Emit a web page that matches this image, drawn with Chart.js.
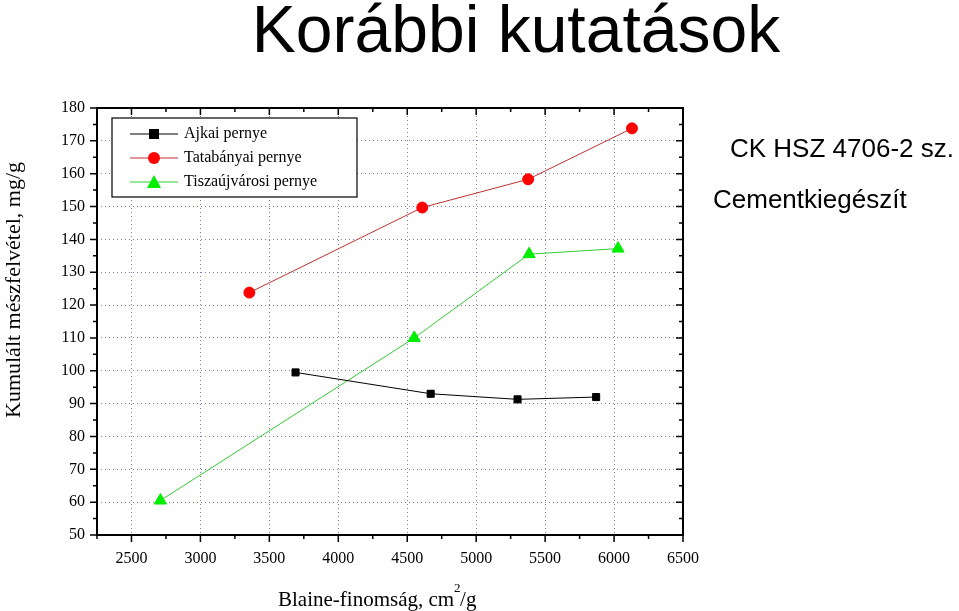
<!DOCTYPE html>
<html>
<head>
<meta charset="utf-8">
<script src="https://cdn.jsdelivr.net/npm/chart.js@4"></script>
<style>
  body { margin: 0; background: #fff; }
  #wrap { position: relative; width: 959px; height: 611px; }
</style>
</head>
<body>
<div id="wrap"><canvas id="c" width="959" height="611"></canvas></div>
<script>
// --- adatok ---
const ajkaiX = [3690, 4670, 5300, 5870];
const ajkaiY = [99.5, 93, 91.3, 92];
const tataX = [3355, 4609, 5377, 6130];
const tataY = [123.8, 149.7, 158.3, 173.8];
const tiszaX = [2710, 4551, 5384, 6029];
const tiszaY = [60.5, 110, 135.5, 137.2];
const seriesNames = ['Ajkai pernye', 'Tatabányai pernye', 'Tiszaújvárosi pernye'];

const toPts = (xs, ys) => xs.map((x, i) => ({ x: x, y: ys[i] }));
const serif = '"Liberation Serif", "DejaVu Serif", serif';

// keret, kis osztások, jelmagyarázat, feliratok
const extras = {
  id: 'extras',
  afterDraw(chart) {
    const { ctx, chartArea: a, scales } = chart;
    const xs = scales.x, ys = scales.y;
    ctx.save();
    ctx.strokeStyle = '#000';
    ctx.lineWidth = 2;
    ctx.strokeRect(a.left, a.top, a.right - a.left, a.bottom - a.top);
    ctx.lineWidth = 1.5;
    for (let v = 2250; v <= 6500; v += 250) {
      const px = xs.getPixelForValue(v);
      const len = v % 500 === 0 ? 7 : 4;
      ctx.beginPath();
      ctx.moveTo(px, a.bottom); ctx.lineTo(px, a.bottom + len);
      ctx.moveTo(px, a.top); ctx.lineTo(px, a.top + len);
      ctx.stroke();
    }
    for (let v = 50; v <= 180; v += 5) {
      const py = ys.getPixelForValue(v);
      const len = v % 10 === 0 ? 7 : 4;
      ctx.beginPath();
      ctx.moveTo(a.left, py); ctx.lineTo(a.left - len, py);
      ctx.moveTo(a.right, py); ctx.lineTo(a.right - len, py);
      ctx.stroke();
    }
    // jelmagyarázat
    ctx.lineWidth = 1.2;
    ctx.fillStyle = '#fff';
    ctx.fillRect(112, 118, 245, 79);
    ctx.strokeRect(112, 118, 245, 79);
    chart.data.datasets.forEach((ds, i) => {
      const y = 134 + i * 24;
      ctx.strokeStyle = ds.borderColor;
      ctx.lineWidth = 1;
      ctx.beginPath(); ctx.moveTo(130, y); ctx.lineTo(178, y); ctx.stroke();
      ctx.fillStyle = ds.pointBackgroundColor;
      ctx.beginPath();
      if (ds.pointStyle === 'rect') ctx.rect(149, y - 5, 10, 10);
      else if (ds.pointStyle === 'circle') ctx.arc(154, y, 6, 0, Math.PI * 2);
      else { ctx.moveTo(154, y - 7); ctx.lineTo(161, y + 6); ctx.lineTo(147, y + 6); ctx.closePath(); }
      ctx.fill();
      ctx.fillStyle = '#000';
      ctx.font = '16px ' + serif;
      ctx.textBaseline = 'middle';
      ctx.fillText(seriesNames[i], 184, y);
    });
    // cím és oldalsó szövegek
    ctx.fillStyle = '#000';
    ctx.textBaseline = 'alphabetic';
    ctx.textAlign = 'center';
    ctx.font = '66px "Liberation Sans", Arial, sans-serif';
    ctx.fillText('Korábbi kutatások', 516, 52);
    ctx.textAlign = 'left';
    ctx.font = '26px "Liberation Sans", Arial, sans-serif';
    ctx.fillText('CK HSZ 4706-2 sz.', 730, 157);
    ctx.fillText('Cementkiegészít', 713, 208);
    // tengelyfeliratok
    ctx.font = '21px ' + serif;
    const base = 'Blaine-finomság, cm';
    const w1 = ctx.measureText(base).width;
    const x0 = 278;
    ctx.fillText(base, x0, 606);
    ctx.font = '13px ' + serif;
    ctx.fillText('2', x0 + w1, 592);
    ctx.font = '21px ' + serif;
    ctx.fillText('/g', x0 + w1 + 6, 606);
    ctx.save();
    ctx.translate(20, 290);
    ctx.rotate(-Math.PI / 2);
    ctx.textAlign = 'center';
    ctx.font = '22px ' + serif;
    ctx.fillText('Kumulált mészfelvétel, mg/g', 0, 0);
    ctx.restore();
    ctx.restore();
  }
};

new Chart(document.getElementById('c'), {
  type: 'scatter',
  data: {
    datasets: [
      { data: toPts(ajkaiX, ajkaiY), showLine: true, borderColor: '#000', borderWidth: 1,
        pointStyle: 'rect', pointRadius: 5, pointBackgroundColor: '#000', pointBorderColor: '#000' },
      { data: toPts(tataX, tataY), showLine: true, borderColor: '#c03030', borderWidth: 1,
        pointStyle: 'circle', pointRadius: 5.5, pointBackgroundColor: '#ff0000', pointBorderColor: '#ff0000' },
      { data: toPts(tiszaX, tiszaY), showLine: true, borderColor: '#33cc33', borderWidth: 1,
        pointStyle: 'triangle', pointRadius: 7, pointBackgroundColor: '#00ee00', pointBorderColor: '#00ee00' }
    ]
  },
  options: {
    responsive: false,
    devicePixelRatio: 1,
    animation: false,
    layout: { padding: { top: 108, right: 276, left: 0, bottom: 0 } },
    plugins: { legend: { display: false }, tooltip: { enabled: false } },
    scales: {
      x: {
        type: 'linear', min: 2250, max: 6500,
        afterBuildTicks: s => { s.ticks = s.ticks.filter(t => t.value % 500 === 0); },
        afterFit: s => { s.height = 76; },
        ticks: { stepSize: 250, color: '#000', font: { family: serif, size: 16 }, padding: 14,
                 maxRotation: 0, callback: v => String(v) },
        grid: { color: '#7b7bc0', lineWidth: 1, drawTicks: false },
        border: { display: false, dash: [1, 3] }
      },
      y: {
        min: 50, max: 180,
        afterFit: s => { s.width = 97; },
        ticks: { stepSize: 10, color: '#000', font: { family: serif, size: 16 }, padding: 12 },
        grid: { color: '#7b7bc0', lineWidth: 1, drawTicks: false },
        border: { display: false, dash: [1, 3] }
      }
    }
  },
  plugins: [extras]
});
</script>
</body>
</html>
